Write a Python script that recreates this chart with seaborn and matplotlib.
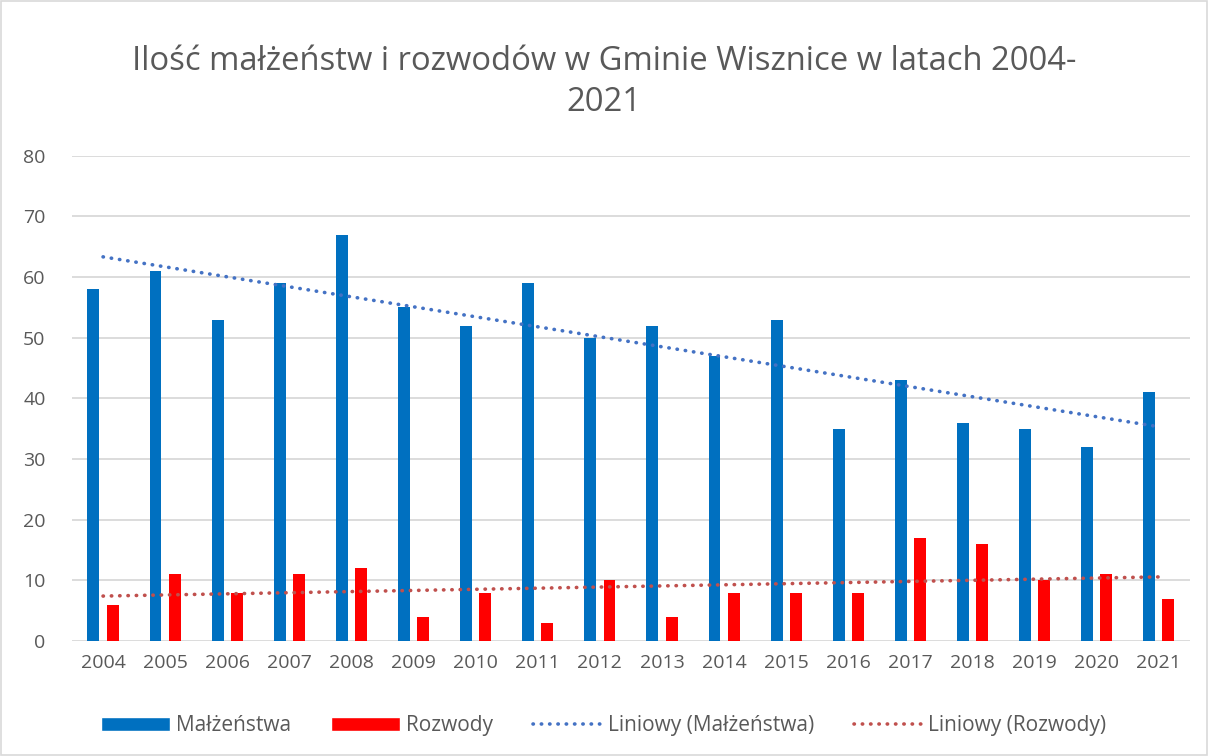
import numpy as np
import pandas as pd
import matplotlib
matplotlib.use("Agg")
import matplotlib.pyplot as plt
import seaborn as sns
from matplotlib.patches import Patch, Rectangle
from matplotlib.lines import Line2D

years = ["2004", "2005", "2006", "2007", "2008", "2009", "2010", "2011", "2012",
         "2013", "2014", "2015", "2016", "2017", "2018", "2019", "2020", "2021"]
malzenstwa = [58, 61, 53, 59, 67, 55, 52, 59, 50, 52, 47, 53, 35, 43, 36, 35, 32, 41]
rozwody = [6, 11, 8, 11, 12, 4, 8, 3, 10, 4, 8, 8, 8, 17, 16, 10, 11, 7]
series_names = ["Małżeństwa", "Rozwody"]
trend_names = ["Liniowy (Małżeństwa)", "Liniowy (Rozwody)"]
title = "Ilość małżeństw i rozwodów w Gminie Wisznice w latach 2004-\n2021"

bar_colors = ["#0070C0", "#FF0000"]
trend_colors = ["#4472C4", "#C0504D"]
text_color = "#595959"

sns.set_theme(style="white")
plt.rcParams['font.family'] = ['Open Sans', 'DejaVu Sans']

df = pd.DataFrame({
    "Rok": years * 2,
    "Wartość": malzenstwa + rozwody,
    "Seria": [series_names[0]] * len(years) + [series_names[1]] * len(years),
})

fig = plt.figure(figsize=(12.08, 7.56), dpi=100)
ax = fig.add_axes([0.0596, 0.152, 0.9254, 0.642])

sns.barplot(data=df, x="Rok", y="Wartość", hue="Seria", order=years,
            hue_order=series_names, palette=bar_colors, width=0.62, gap=0.38,
            saturation=1, ax=ax, legend=False, errorbar=None, linewidth=0)

x = np.arange(len(years))
for vals, col in zip([malzenstwa, rozwody], trend_colors):
    k, b = np.polyfit(x, np.array(vals, dtype=float), 1)
    ax.plot(x, k * x + b, color=col, linestyle=(0, (0.1, 2.2)), linewidth=2.6,
            dash_capstyle="round", zorder=4)

ax.set_ylim(0, 80)
ax.set_xlim(-0.5, len(years) - 0.5)
ax.set_yticks(range(0, 81, 10))
ax.yaxis.grid(True, color="#d9d9d9", linewidth=1.3)
ax.set_axisbelow(True)
for s in ax.spines.values():
    s.set_visible(False)
ax.set_xlabel("")
ax.set_ylabel("")
ax.tick_params(axis="both", length=0, labelsize=14, labelcolor=text_color)
ax.tick_params(axis="y", pad=19)
ax.tick_params(axis="x", pad=9)

fig.suptitle(title, fontsize=23.6, color=text_color, y=0.94, va="top", linespacing=1.32)

handles = [Patch(facecolor=bar_colors[0]), Patch(facecolor=bar_colors[1]),
           Line2D([0], [0], color=trend_colors[0], linestyle=(0, (0.1, 2.2)), linewidth=2.6, dash_capstyle="round"),
           Line2D([0], [0], color=trend_colors[1], linestyle=(0, (0.1, 2.2)), linewidth=2.6, dash_capstyle="round")]
labels = series_names + trend_names
leg = fig.legend(handles, labels, loc="center", bbox_to_anchor=(0.5, 0.04), ncol=4,
                 frameon=False, fontsize=15, handlelength=3.3, handleheight=0.7,
                 columnspacing=1.9, handletextpad=0.3)
for t in leg.get_texts():
    t.set_color(text_color)

fig.patches.append(Rectangle((0.001, 0.001), 0.998, 0.998, transform=fig.transFigure,
                             fill=False, edgecolor="#d9d9d9", linewidth=1.2))

fig.savefig("out.png", dpi=100)
